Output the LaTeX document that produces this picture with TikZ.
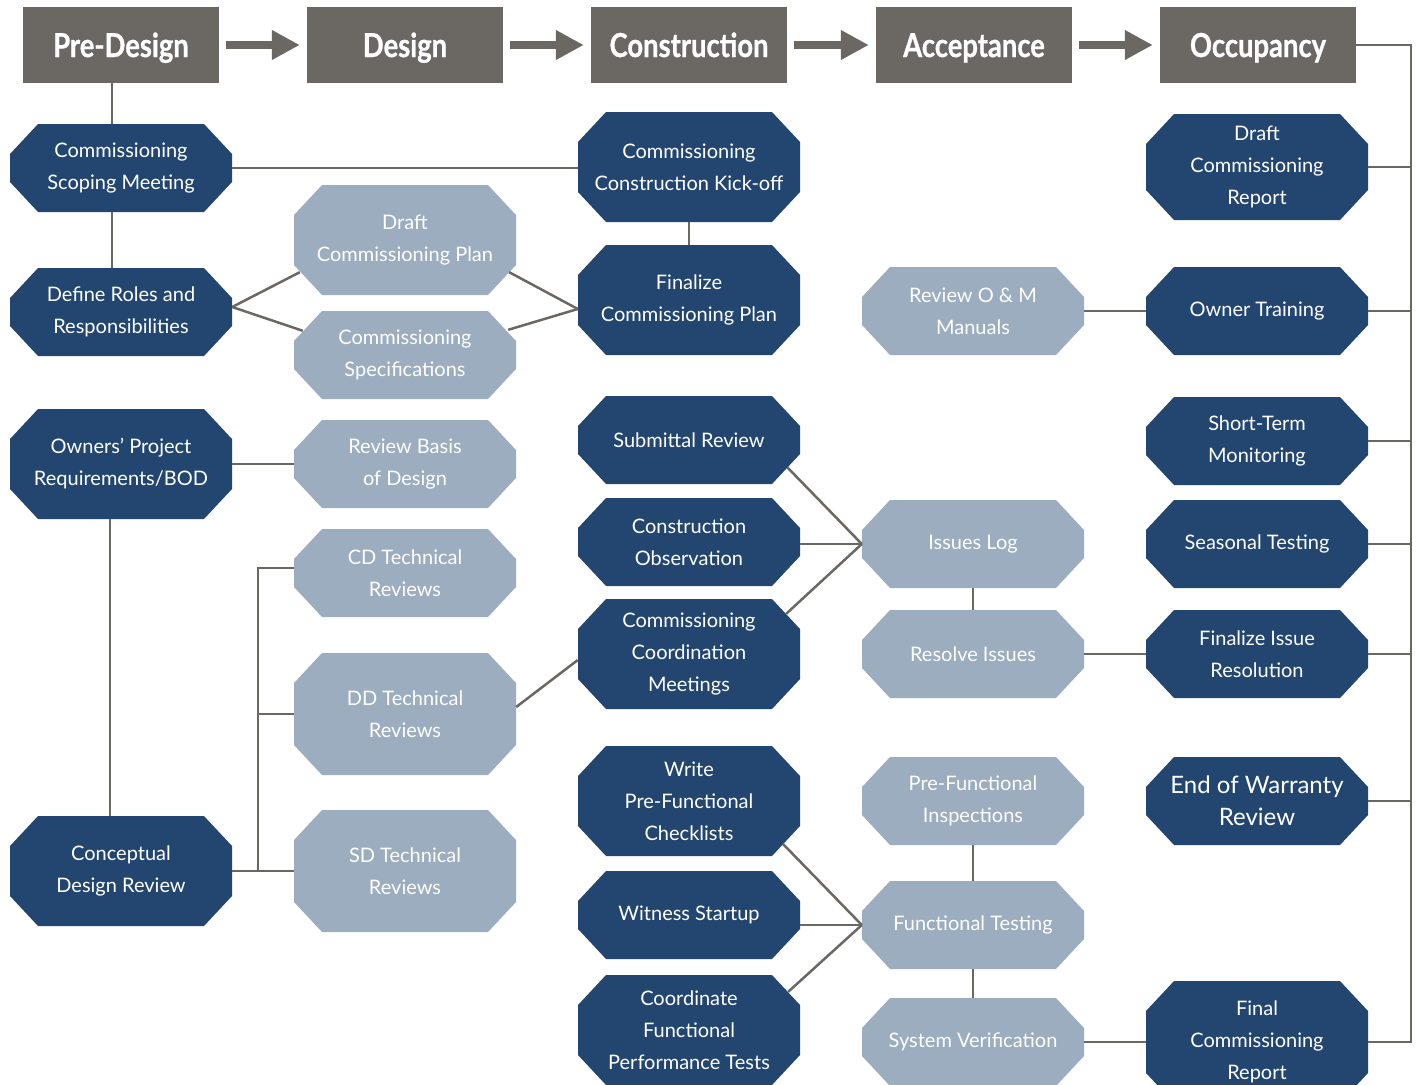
\documentclass[tikz,border=0pt]{standalone}
\usepackage{fontspec}
\setmainfont{Lato}
\newfontfamily\headfont[FakeStretch=0.83,BoldFeatures={FakeBold=0.8}]{Lato}
\usetikzlibrary{arrows.meta}
\definecolor{navy}{HTML}{22466F}
\definecolor{steel}{HTML}{9BADBF}
\definecolor{slate}{HTML}{6B6863}

\begin{document}
\begin{tikzpicture}[x=1pt,y=-1pt,
    phase/.style={fill=slate, text=white, minimum width=196, minimum height=76, inner sep=0pt,
        text height=24, text depth=0, font=\headfont\bfseries\fontsize{33}{36}\selectfont},
    oct/.style={minimum width=222, minimum height=88, inner sep=2pt, text=white, align=center,
        font=\fontsize{20}{32}\selectfont,
        path picture={\fill[#1] ([xshift=28]path picture bounding box.north west)
            -- ([xshift=-28]path picture bounding box.north east)
            -- ([yshift=-30]path picture bounding box.north east)
            -- ([yshift=30]path picture bounding box.south east)
            -- ([xshift=-28]path picture bounding box.south east)
            -- ([xshift=28]path picture bounding box.south west)
            -- ([yshift=30]path picture bounding box.south west)
            -- ([yshift=-30]path picture bounding box.north west) -- cycle;}},
    dk/.style={oct=navy},
    lt/.style={oct=steel},
    link/.style={draw=slate, line width=2.5},
    flow/.style={draw=slate, line width=8, -{Triangle[length=28pt 0, width=28pt 0]},
        shorten <=7, shorten >=7}]

        \useasboundingbox (0,0) rectangle (1423,1084);

        % phases
        \node[phase] (pre) at (121,45) {Pre-Design};
        \node[phase] (des) at (405,45) {Design};
        \node[phase] (con) at (689,45) {Construction};
        \node[phase] (acc) at (974,45) {Acceptance};
        \node[phase] (occ) at (1258,45) {Occupancy};

        \draw[flow] (pre) -- (des);
        \draw[flow] (des) -- (con);
        \draw[flow] (con) -- (acc);
        \draw[flow] (acc) -- (occ);

        % pre-design
        \node[dk] (scope) at (121,168) {Commissioning\\Scoping Meeting};
        \node[dk] (roles) at (121,312) {Define Roles and\\Responsibilities};
        \node[dk, minimum height=110] (opr) at (121,464) {Owners' Project\\Requirements/BOD};
        \node[dk, minimum height=110] (cdr) at (121,871) {Conceptual\\Design Review};

        % design
        \node[lt, minimum height=110] (dplan) at (405,240) {Draft\\Commissioning Plan};
        \node[lt] (spec) at (405,355) {Commissioning\\Specifications};
        \node[lt] (bod) at (405,464) {Review Basis\\of Design};
        \node[lt] (cdt) at (405,573) {CD Technical\\Reviews};
        \node[lt, minimum height=122] (ddt) at (405,714) {DD Technical\\Reviews};
        \node[lt, minimum height=122] (sdt) at (405,871) {SD Technical\\Reviews};

        % construction
        \node[dk, minimum height=110] (kick) at (689,167) {Commissioning\\Construction Kick-off};
        \node[dk, minimum height=110] (fplan) at (689,300) {Finalize\\Commissioning Plan};
        \node[dk] (sub) at (689,440) {Submittal Review};
        \node[dk] (obs) at (689,542) {Construction\\Observation};
        \node[dk, minimum height=110] (meet) at (689,654) {Commissioning\\Coordination\\Meetings};
        \node[dk, minimum height=110] (pfc) at (689,801) {Write\\Pre-Functional\\Checklists};
        \node[dk] (wit) at (689,915) {Witness Startup};
        \node[dk, minimum height=110] (fpt) at (689,1030) {Coordinate\\Functional\\Performance Tests};

        % acceptance
        \node[lt] (om) at (973,311) {Review O \& M\\Manuals};
        \node[lt] (log) at (973,544) {Issues Log};
        \node[lt] (res) at (973,654) {Resolve Issues};
        \node[lt] (pfi) at (973,801) {Pre-Functional\\Inspections};
        \node[lt] (fun) at (973,925) {Functional Testing};
        \node[lt] (sys) at (973,1042) {System Verification};

        % occupancy
        \node[dk, minimum height=106] (dcr) at (1257,167) {Draft\\Commissioning\\Report};
        \node[dk] (own) at (1257,311) {Owner Training};
        \node[dk] (stm) at (1257,441) {Short-Term\\Monitoring};
        \node[dk] (sea) at (1257,544) {Seasonal Testing};
        \node[dk] (fir) at (1257,654) {Finalize Issue\\Resolution};
        \node[dk, font=\fontsize{24}{32}\selectfont] (ewr) at (1257,801) {End of Warranty\\Review};
        \node[dk, minimum height=122] (fcr) at (1257,1042) {Final\\Commissioning\\Report};

        % links
        \draw[link] ([xshift=-9]pre.south) -- ([xshift=-9]scope.north);
        \draw[link] ([xshift=-9]scope.south) -- ([xshift=-9]roles.north);
        \draw[link] (scope.east) -- (scope.east -| kick.west);
        \draw[link] (kick.south) -- (fplan.north);
        \draw[link] ([shift={(0,-5)}]roles.east) -- ([shift={(6,-23)}]dplan.south west);
        \draw[link] ([shift={(0,-5)}]roles.east) -- ([shift={(9,20)}]spec.north west);
        \draw[link] ([shift={(-7,-23)}]dplan.south east) -- ([shift={(0,9)}]fplan.west);
        \draw[link] ([shift={(-8,19)}]spec.north east) -- ([shift={(0,9)}]fplan.west);
        \draw[link] (opr.east) -- (bod.west);
        \draw[link] ([xshift=-11]opr.south) -- ([xshift=-11]cdr.north);

        \coordinate (cdbus) at (258,871);
        \draw[link] (cdr.east) -- (sdt.west);
        \draw[link] ([yshift=5]cdt.west) -| (cdbus);
        \draw[link] (ddt.west) -- (ddt.west -| cdbus);
        \draw[link] ([shift={(0,-7)}]ddt.east) -- ([shift={(0,6)}]meet.west);

        \draw[link] ([shift={(-13,-17)}]sub.south east) -- (log.west);
        \draw[link] (log.west) -- (log.west -| obs.east);
        \draw[link] ([shift={(-14,15)}]meet.north east) -- (log.west);
        \draw[link] (log.south) -- (res.north);
        \draw[link] (res.east) -- (fir.west);
        \draw[link] (om.east) -- (own.west);

        \draw[link] (pfi.south) -- (fun.north);
        \draw[link] (fun.south) -- (sys.north);
        \draw[link] ([shift={(-17,-12)}]pfc.south east) -- (fun.west);
        \draw[link] (fun.west) -- (fun.west -| wit.east);
        \draw[link] ([shift={(-12,17)}]fpt.north east) -- (fun.west);
        \draw[link] (sys.east) -- (fcr.west);

        \coordinate (bus) at (1411,45);
        \draw[link] (occ.east) -- (bus) |- (fcr.east);
        \draw[link] (dcr.east) -- (dcr.east -| bus);
        \draw[link] (own.east) -- (own.east -| bus);
        \draw[link] (stm.east) -- (stm.east -| bus);
        \draw[link] (sea.east) -- (sea.east -| bus);
        \draw[link] (fir.east) -- (fir.east -| bus);
        \draw[link] (ewr.east) -- (ewr.east -| bus);

    \end{tikzpicture}
\end{document}
